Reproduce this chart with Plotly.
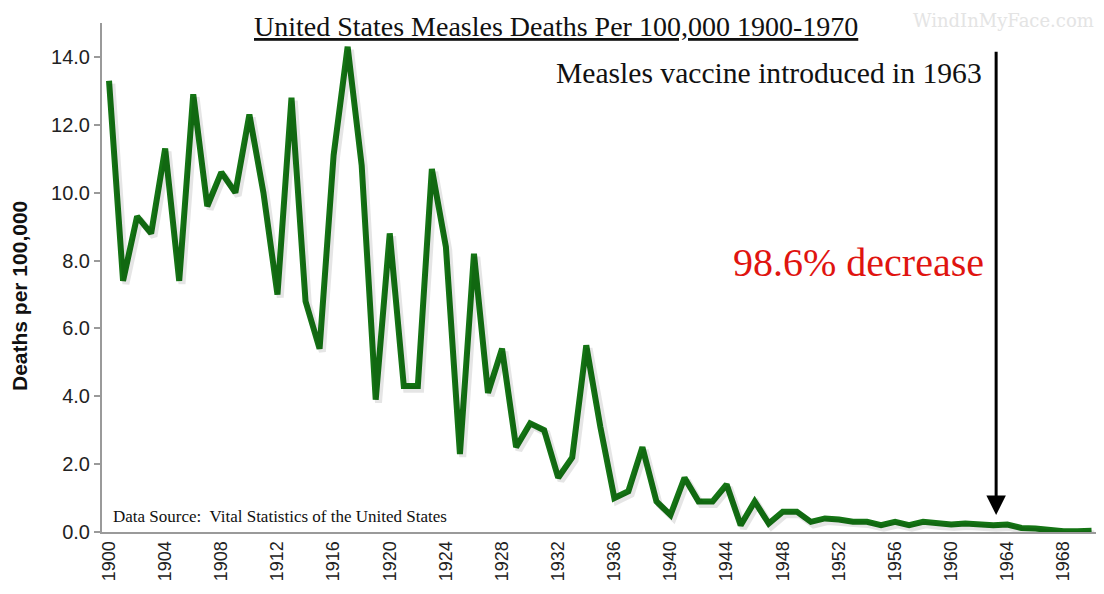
import plotly.graph_objects as go

# deaths per 100,000
years = list(range(1900, 1971))
deaths = [
    13.3, 7.4, 9.3, 8.8, 11.3, 7.4, 12.9, 9.6, 10.6, 10.0,  # 1900s
    12.3, 10.0, 7.0, 12.8, 6.8, 5.4, 11.1, 14.3, 10.8, 3.9,  # 1910s
    8.8, 4.3, 4.3, 10.7, 8.4, 2.3, 8.2, 4.1, 5.4, 2.5,  # 1920s
    3.2, 3.0, 1.6, 2.2, 5.5, 3.1, 1.0, 1.2, 2.5, 0.9,  # 1930s
    0.5, 1.6, 0.9, 0.9, 1.4, 0.2, 0.9, 0.25, 0.6, 0.6,  # 1940s
    0.3, 0.4, 0.37, 0.3, 0.3, 0.2, 0.3, 0.2, 0.3, 0.25,  # 1950s
    0.22, 0.25, 0.22, 0.2, 0.22, 0.12, 0.1, 0.05, 0.02, 0.02,  # 1960s
    0.04,
]
tick_years = list(range(1900, 1971, 4))
y_ticks = [0, 2, 4, 6, 8, 10, 12, 14]
vaccine_year = 1963

serif = "Liberation Serif"
sans = "Liberation Sans"
axis_grey = "#9a9a9a"

# the page body has an 8px margin, so the figure is drawn 8px smaller
OFF = 8
W, H = 1104 - OFF, 594 - OFF
ML, MR, MT, MB = 94, 4, 15, 62
X_RANGE = [1899.5, 1970.6]
Y_RANGE = [0, 15]

fig = go.Figure()
# soft drop shadow: same data on an overlay axis nudged a few px right/down
fig.add_trace(
    go.Scatter(
        x=years,
        y=deaths,
        mode="lines",
        line=dict(color="rgba(0,0,0,0.1)", width=7),
        xaxis="x2",
        yaxis="y2",
        hoverinfo="skip",
    )
)
fig.add_trace(
    go.Scatter(
        x=years,
        y=deaths,
        mode="lines",
        line=dict(color="#147414", width=6),
        hoverinfo="x+y",
    )
)

fig.update_layout(
    width=W,
    height=H,
    margin=dict(l=ML, r=MR, t=MT, b=MB, autoexpand=False),
    paper_bgcolor="white",
    plot_bgcolor="white",
    showlegend=False,
    xaxis=dict(
        range=X_RANGE,
        tickmode="array",
        tickvals=tick_years,
        ticktext=[str(t) for t in tick_years],
        tickangle=-90,
        tickfont=dict(family=sans, size=18, color="#222"),
        showgrid=False,
        zeroline=False,
        showline=True,
        linecolor=axis_grey,
        linewidth=2,
        ticks="",
        automargin=False,
    ),
    yaxis=dict(
        range=Y_RANGE,
        tickmode="array",
        tickvals=y_ticks,
        ticktext=[f"{v:.1f}" for v in y_ticks],
        tickfont=dict(family=sans, size=20, color="#222"),
        showgrid=False,
        zeroline=False,
        showline=True,
        linecolor=axis_grey,
        linewidth=2,
        ticks="outside",
        ticklen=6,
        tickcolor=axis_grey,
        tickwidth=2,
        automargin=False,
    ),
    xaxis2=dict(
        overlaying="x",
        range=[X_RANGE[0] - 0.2, X_RANGE[1] - 0.2],
        visible=False,
    ),
    yaxis2=dict(
        overlaying="y",
        range=[Y_RANGE[0] + 0.09, Y_RANGE[1] + 0.09],
        visible=False,
    ),
)

# vaccine arrow
fig.add_annotation(
    x=vaccine_year + 0.2,
    y=0.5,
    ax=vaccine_year + 0.2,
    ay=14.2,
    xref="x",
    yref="y",
    axref="x",
    ayref="y",
    text="",
    showarrow=True,
    arrowhead=2,
    arrowsize=1.3,
    arrowwidth=3,
    arrowcolor="black",
)

# texts placed by screen pixel position (x, y, anchor)
texts = [
    ("<u>United States Measles Deaths Per 100,000 1900-1970</u>", 556, 26, "center", "middle", dict(family=serif, size=28, color="#111"), 0),
    ("Measles vaccine introduced in 1963", 983, 73, "right", "middle", dict(family=serif, size=29.6, color="#111"), 0),
    ("98.6% decrease", 985, 262, "right", "middle", dict(family=serif, size=40, color="#e0140f"), 0),
    ("Data Source:  Vital Statistics of the United States", 112, 516, "left", "middle", dict(family=serif, size=17, color="#111"), 0),
    ("WindInMyFace.com", 1095, OFF + 1, "right", "top", dict(family="DejaVu Serif", size=18, color="#e4e4e4"), 0),
    ("<b>Deaths per 100,000</b>", 19, 296, "center", "middle", dict(family=sans, size=21, color="#111"), -90),
]
for text, px, py, xanchor, yanchor, font, angle in texts:
    fx, fy = px - OFF, py - OFF
    fig.add_annotation(
        text=text,
        x=(fx - ML) / (W - ML - MR),
        y=(H - MB - fy) / (H - MT - MB),
        xref="paper",
        yref="paper",
        showarrow=False,
        font=font,
        xanchor=xanchor,
        yanchor=yanchor,
        textangle=angle,
        borderpad=0,
    )

fig.write_html("out.html")
